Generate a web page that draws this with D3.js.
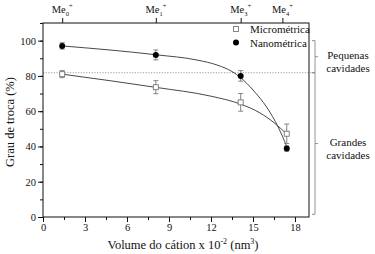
<!DOCTYPE html>
<html lang="pt">
<head>
<meta charset="UTF-8">
<title>Grau de troca</title>
<style>
  body { margin: 0; background: #fff; }
</style>
</head>
<body>
<script src="https://cdn.jsdelivr.net/npm/d3@7/dist/d3.min.js"></script>
<script>
const W = 375, H = 254;
const FONT = "'Liberation Serif', 'Times New Roman', serif";

// dados
const volume = [1.37, 8.06, 14.12, 17.41];
const micro = [81, 73.6, 65, 47.2];
const microErr = [2, 3.7, 5, 5.5];
const nano = [97, 91.9, 80, 38.8];
const nanoErr = [1.8, 2.8, 3, 1.5];

// curvas ajustadas
const fitMicroX = [1.37, 8.06, 12, 14.12, 15.5, 16.5, 17.41];
const fitMicroY = [81, 73.5, 68.5, 64, 59, 53.5, 47];
const fitNanoX = [1.37, 8.06, 11, 12.5, 13.5, 14.12, 15, 16, 16.8, 17.41];
const fitNanoY = [97, 92, 89, 86, 82.5, 79, 72, 62, 51, 40];

// eixo superior
const topLabels = ["0", "1", "3", "4"];
const topPos = [1.37, 8.06, 14.12, 17.1];

const xTicks = [0, 3, 6, 9, 12, 15, 18];
const yTicks = [0, 20, 40, 60, 80, 100];
const refLine = 81.8;
const brackets = [
  { y0: 100, y1: refLine, label: ["Pequenas", "cavidades"] },
  { y0: refLine, y1: 1.5, label: ["Grandes", "cavidades"] }
];

const m = { left: 43, right: 309, top: 23, bottom: 217 };

const svg = d3.select("body").append("svg")
  .attr("width", W).attr("height", H)
  .style("font-family", FONT);

const x = d3.scaleLinear().domain([0, 19]).range([m.left, m.right]);
const y = d3.scaleLinear().domain([0, 110]).range([m.bottom, m.top]);

// linha pontilhada de referencia
svg.append("line")
  .attr("x1", x(0)).attr("x2", 313)
  .attr("y1", y(refLine)).attr("y2", y(refLine))
  .attr("stroke", "#999").attr("stroke-width", 1)
  .attr("stroke-dasharray", "1.2,1.5");

// eixos
const axisStyle = g => {
  g.attr("font-family", null);
  g.selectAll("text").attr("font-size", 10.5).attr("fill", "#111").style("font-family", FONT);
  g.selectAll("line,path").attr("stroke", "#111");
};

svg.append("g")
  .attr("transform", `translate(0,${m.bottom})`)
  .call(d3.axisBottom(x).tickValues(d3.range(0, 19, 1.5)).tickSize(3).tickFormat(""))
  .call(g => g.select(".domain").remove())
  .call(axisStyle);
svg.append("g")
  .attr("transform", `translate(0,${m.bottom})`)
  .call(d3.axisBottom(x).tickValues(xTicks).tickSize(5).tickSizeOuter(0).tickPadding(2))
  .call(g => g.select(".domain").remove())
  .call(axisStyle);

svg.append("g")
  .attr("transform", `translate(${m.left},0)`)
  .call(d3.axisLeft(y).tickValues(d3.range(0, 111, 10)).tickSize(3).tickFormat(""))
  .call(g => g.select(".domain").remove())
  .call(axisStyle);
svg.append("g")
  .attr("transform", `translate(${m.left},0)`)
  .call(d3.axisLeft(y).tickValues(yTicks).tickSize(5).tickSizeOuter(0).tickPadding(2))
  .call(g => g.select(".domain").remove())
  .call(axisStyle);

// eixo superior
svg.append("g")
  .attr("transform", `translate(0,${m.top})`)
  .call(d3.axisTop(x).tickValues(topPos).tickSize(5).tickFormat(""))
  .call(g => g.select(".domain").remove())
  .call(axisStyle);
topPos.forEach((v, i) => {
  const t = svg.append("text")
    .attr("x", x(v)).attr("y", 13)
    .attr("text-anchor", "middle")
    .attr("font-size", 10.5).attr("fill", "#111").style("font-family", FONT);
  t.append("tspan").text("Me");
  t.append("tspan").attr("font-size", 6.5).attr("dy", 2.5).text(topLabels[i]);
  t.append("tspan").attr("font-size", 6.5).attr("dy", -8).text("+");
});

// moldura
svg.append("rect")
  .attr("x", m.left).attr("y", m.top)
  .attr("width", m.right - m.left).attr("height", m.bottom - m.top)
  .attr("fill", "none").attr("stroke", "#111").attr("stroke-width", 1);

// curvas ajustadas
const line = d3.line().x(d => x(d[0])).y(d => y(d[1])).curve(d3.curveMonotoneX);
svg.append("path")
  .datum(d3.zip(fitNanoX, fitNanoY))
  .attr("d", line).attr("fill", "none").attr("stroke", "#333").attr("stroke-width", 0.9);
svg.append("path")
  .datum(d3.zip(fitMicroX, fitMicroY))
  .attr("d", line).attr("fill", "none").attr("stroke", "#333").attr("stroke-width", 0.9);

// barras de erro
function errorBars(vals, errs) {
  const g = svg.append("g").attr("stroke", "#777").attr("stroke-width", 0.9);
  volume.forEach((v, i) => {
    const cx = x(v), top = y(vals[i] + errs[i]), bot = y(vals[i] - errs[i]);
    g.append("line").attr("x1", cx).attr("x2", cx).attr("y1", top).attr("y2", bot);
    g.append("line").attr("x1", cx - 2.5).attr("x2", cx + 2.5).attr("y1", top).attr("y2", top);
    g.append("line").attr("x1", cx - 2.5).attr("x2", cx + 2.5).attr("y1", bot).attr("y2", bot);
  });
}
errorBars(micro, microErr);
errorBars(nano, nanoErr);

// pontos
svg.append("g").selectAll("rect")
  .data(d3.zip(volume, micro))
  .join("rect")
  .attr("x", d => x(d[0]) - 2.5).attr("y", d => y(d[1]) - 2.5)
  .attr("width", 5).attr("height", 5)
  .attr("fill", "#fff").attr("stroke", "#777").attr("stroke-width", 0.9);
svg.append("g").selectAll("circle")
  .data(d3.zip(volume, nano))
  .join("circle")
  .attr("cx", d => x(d[0])).attr("cy", d => y(d[1])).attr("r", 3)
  .attr("fill", "#000");

// legenda
const leg = svg.append("g").attr("font-size", 11).attr("fill", "#111");
leg.append("rect").attr("x", 233.5).attr("y", 26.5).attr("width", 5).attr("height", 5)
  .attr("fill", "#fff").attr("stroke", "#777").attr("stroke-width", 0.9);
leg.append("text").attr("x", 250).attr("y", 33).style("font-family", FONT).text("Micrométrica");
leg.append("circle").attr("cx", 236).attr("cy", 42.5).attr("r", 3).attr("fill", "#000");
leg.append("text").attr("x", 250).attr("y", 46.5).style("font-family", FONT).text("Nanométrica");

// chaves a direita
const bx = 315;
brackets.forEach(b => {
  const y0 = y(b.y0), y1 = y(b.y1), ym = (y0 + y1) / 2;
  const g = svg.append("g").attr("stroke", "#888").attr("stroke-width", 0.9).attr("fill", "none");
  g.append("path").attr("d", `M${bx - 3},${y0}H${bx}V${y1}H${bx - 3}`);
  g.append("line").attr("x1", bx).attr("x2", bx + 3).attr("y1", ym).attr("y2", ym);
  const t = svg.append("text").attr("text-anchor", "middle").attr("font-size", 11)
    .attr("fill", "#111").style("font-family", FONT);
  t.append("tspan").attr("x", 348).attr("y", ym + 2).text(b.label[0]);
  t.append("tspan").attr("x", 348).attr("dy", 13).text(b.label[1]);
});

// titulos dos eixos
const xt = svg.append("text")
  .attr("x", (m.left + m.right) / 2 + 7).attr("y", 249)
  .attr("text-anchor", "middle").attr("font-size", 12.5).attr("fill", "#111")
  .style("font-family", FONT);
xt.append("tspan").text("Volume do cátion x 10");
xt.append("tspan").attr("font-size", 8).attr("dy", -5).text("-2");
xt.append("tspan").attr("dy", 5).text(" (nm");
xt.append("tspan").attr("font-size", 8).attr("dy", -5).text("3");
xt.append("tspan").attr("dy", 5).text(")");

svg.append("text")
  .attr("transform", `translate(14,${(m.top + m.bottom) / 2 + 2}) rotate(-90)`)
  .attr("text-anchor", "middle").attr("font-size", 12.5).attr("fill", "#111")
  .style("font-family", FONT)
  .text("Grau de troca (%)");
</script>
</body>
</html>
